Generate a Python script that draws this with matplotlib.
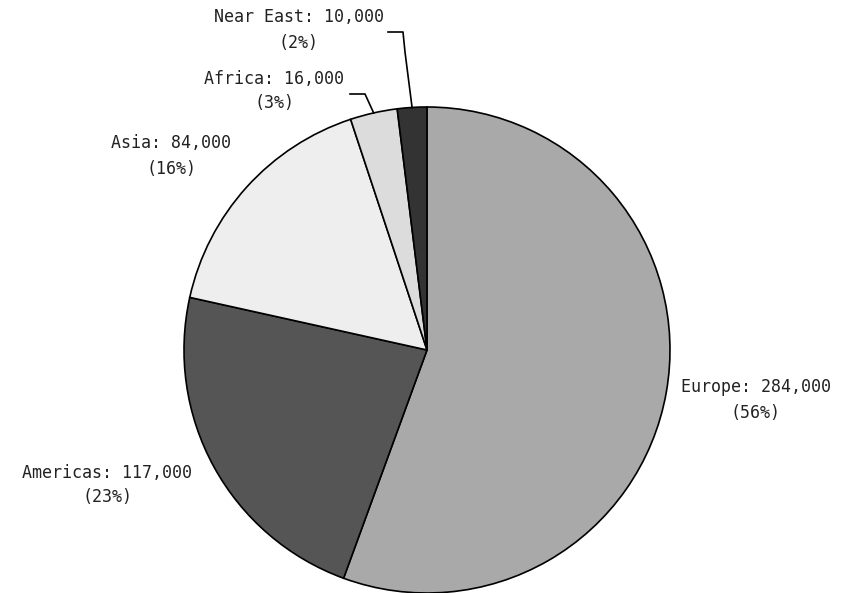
import numpy as np
import matplotlib.pyplot as plt

# Regions and their counts
regions = ['Europe', 'Americas', 'Asia', 'Africa', 'Near East']
counts = [284000, 117000, 84000, 16000, 10000]
shares = ['56%', '23%', '16%', '3%', '2%']
colors = ['#a9a9a9', '#555555', '#eeeeee', '#dcdcdc', '#333333']

# Label anchor points (pixel space, y measured from bottom)
label_pos = [(756, 193), (107, 108), (171, 437), (274, 502), (299, 563)]

W, H = 843, 593
fig = plt.figure(figsize=(W / 100, H / 100), dpi=100)
ax = fig.add_axes([0, 0, 1, 1])
ax.set_xlim(0, W)
ax.set_ylim(0, H)
ax.axis('off')

cx, cy, r = 427, 243, 243
wedges, _ = ax.pie(counts, colors=colors, startangle=90, counterclock=False,
                   center=(cx, cy), radius=r,
                   wedgeprops=dict(edgecolor='black', linewidth=1.2))
ax.set_xlim(0, W)
ax.set_ylim(0, H)
ax.set_aspect('equal')

font = dict(family='DejaVu Sans Mono', fontsize=12, color='#222222',
            ha='center', va='center', linespacing=1.5)
for name, val, pct, (x, y) in zip(regions, counts, shares, label_pos):
    ax.text(x, y, f'{name}: {val:,}\n({pct})', **font)

# Leader lines for the two thin slices
leaders = {3: [(350, 499), (365, 499)], 4: [(388, 561), (403, 561), (405, 541)]}
for i, pts in leaders.items():
    w = wedges[i]
    mid = np.radians((w.theta1 + w.theta2) / 2)
    ex, ey = cx + r * np.cos(mid), cy + r * np.sin(mid)
    xs = [p[0] for p in pts] + [ex]
    ys = [p[1] for p in pts] + [ey]
    ax.plot(xs, ys, color='black', linewidth=1.2)

fig.savefig('out.png', dpi=100, facecolor='white')
